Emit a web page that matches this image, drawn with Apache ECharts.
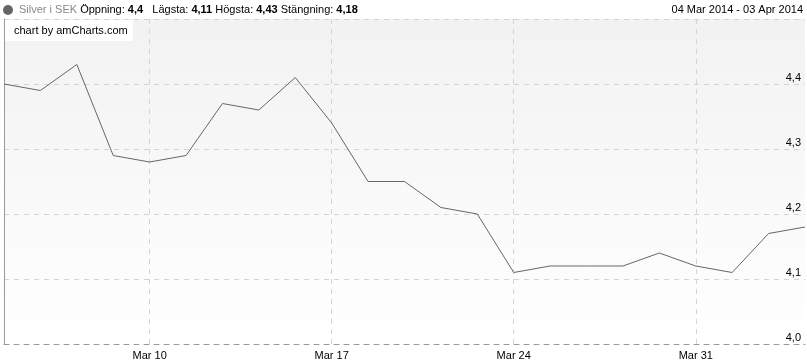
<!DOCTYPE html>
<html>
<head>
<meta charset="utf-8">
<script src="https://cdn.jsdelivr.net/npm/echarts@6/dist/echarts.min.js"></script>
<style>html,body{margin:0;padding:0;background:#fff}#c{width:807px;height:363px}</style>
</head>
<body>
<div id="c"></div>
<script>
const categories = ['Mar 4','Mar 5','Mar 6','Mar 7','Mar 10','Mar 11','Mar 12','Mar 13','Mar 14','Mar 17','Mar 18','Mar 19','Mar 20','Mar 21','Mar 24','Mar 25','Mar 26','Mar 27','Mar 28','Mar 31','Apr 1','Apr 2','Apr 3'];
const prices = [4.40,4.39,4.43,4.29,4.28,4.29,4.37,4.36,4.41,4.34,4.25,4.25,4.21,4.20,4.11,4.12,4.12,4.12,4.14,4.12,4.11,4.17,4.18];
const xTickLabels = ['Mar 10','Mar 17','Mar 24','Mar 31'];
const yMin = 4.0, yMax = 4.5, yStep = 0.1;
const seriesName = 'Silver i SEK';
const legendKeys = ['Öppning:', 'Lägsta:', 'Högsta:', 'Stängning:'];
const legendValues = ['4,4', '4,11', '4,43', '4,18'];
const rangeText = '04 Mar 2014 - 03 Apr 2014';

const FONT = '"Liberation Sans", Arial, Helvetica, sans-serif';
const chart = echarts.init(document.getElementById('c'));
const isTick = (i) => xTickLabels.indexOf(categories[i]) >= 0;

let legendStr = '{g|' + seriesName + '}';
legendKeys.forEach((k, i) => {
  legendStr += ' {d|' + k + '} {b|' + legendValues[i] + '}' + (i === 0 ? '  ' : '');
});

chart.setOption({
  animation: false,
  textStyle: {fontFamily: FONT},
  grid: {
    left: 4, right: 2, top: 19, bottom: 19,
    show: true, borderWidth: 0,
    backgroundColor: {type: 'linear', x: 0, y: 0, x2: 0, y2: 1,
      colorStops: [{offset: 0, color: '#f2f2f2'}, {offset: 1, color: '#ffffff'}]}
  },
  xAxis: {
    type: 'category', data: categories, boundaryGap: false,
    axisLine: {show: true, lineStyle: {color: '#999', type: [5, 5], width: 1}},
    axisTick: {show: false},
    axisLabel: {interval: (i) => isTick(i), color: '#000', fontSize: 11, margin: 6, fontFamily: FONT},
    splitLine: {show: true, interval: (i) => isTick(i), lineStyle: {color: '#d4d4d4', type: [5, 5], width: 1}}
  },
  yAxis: [{
    type: 'value', position: 'right', min: yMin, max: yMax, interval: yStep,
    axisLine: {show: false}, axisTick: {show: false},
    axisLabel: {inside: true, showMaxLabel: false, color: '#000', fontSize: 11, margin: 4,
      verticalAlign: 'bottom', padding: [0, 0, 1, 0], fontFamily: FONT,
      formatter: (v) => v.toFixed(1).replace('.', ',')},
    splitLine: {show: true, lineStyle: {color: '#d4d4d4', type: [5, 5], width: 1}}
  }, {
    type: 'value', position: 'left', min: yMin, max: yMax, interval: yStep,
    axisLine: {show: true, lineStyle: {color: '#999', width: 1}},
    axisTick: {show: false}, axisLabel: {show: false}, splitLine: {show: false}
  }],
  series: [{
    name: seriesName, type: 'line', data: prices, showSymbol: false, symbol: 'none',
    lineStyle: {color: '#666', width: 1}, yAxisIndex: 0
  }],
  graphic: [
    {type: 'circle', shape: {cx: 8, cy: 10, r: 5}, style: {fill: '#666'}},
    {type: 'text', x: 19, y: 10, style: {
      text: legendStr, verticalAlign: 'middle', font: '11px ' + FONT,
      rich: {
        g: {fill: '#888', fontSize: 11, fontFamily: FONT},
        d: {fill: '#000', fontSize: 11, fontFamily: FONT},
        b: {fill: '#000', fontSize: 11, fontWeight: 'bold', fontFamily: FONT}
      }}},
    {type: 'text', x: 803, y: 10, style: {text: rangeText, align: 'right', verticalAlign: 'middle', fill: '#000', font: '11px ' + FONT}},
    {type: 'rect', shape: {x: 5, y: 20, width: 128, height: 21}, style: {fill: '#fff'}, z: 100},
    {type: 'text', x: 14, y: 30.5, z: 101, style: {text: 'chart by amCharts.com', verticalAlign: 'middle', fill: '#000', font: '11px ' + FONT}}
  ]
});
</script>
</body>
</html>
